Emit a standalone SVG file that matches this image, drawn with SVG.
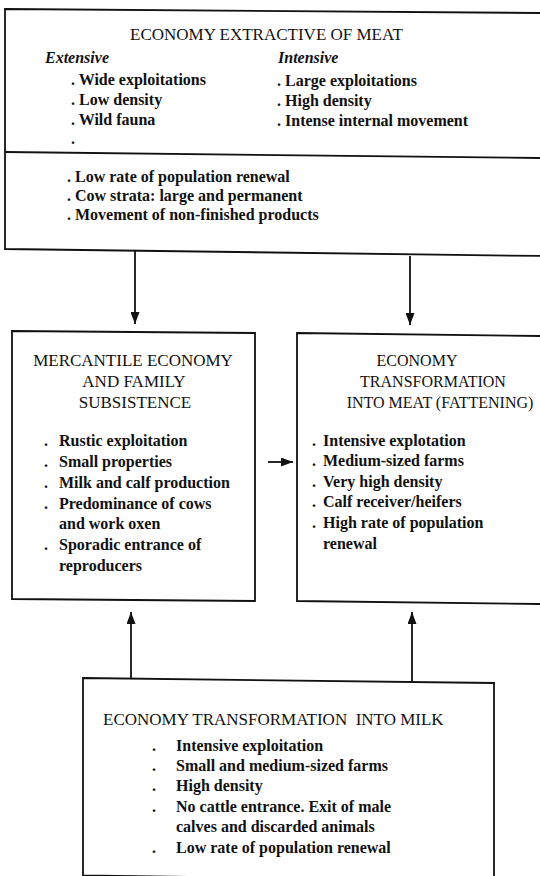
<svg xmlns="http://www.w3.org/2000/svg" width="540" height="876" viewBox="0 0 540 876">
<style>
  .box { fill: none; stroke: #111; stroke-width: 1.8; }
  .title { font-family: "Liberation Serif", "Times New Roman", serif; font-size: 17px; fill: #111; }
  .title-s { font-family: "Liberation Serif", "Times New Roman", serif; font-size: 16px; fill: #111; }
  .body { font-family: "Liberation Serif", "Times New Roman", serif; font-size: 16px; font-weight: bold; fill: #111; }
  .head { font-family: "Liberation Serif", "Times New Roman", serif; font-size: 16px; font-weight: bold; font-style: italic; fill: #111; }
  .conn { stroke: #111; stroke-width: 1.8; fill: none; marker-end: url(#arrow); }
</style>
<defs>
  <marker id="arrow" markerUnits="userSpaceOnUse" viewBox="0 0 12 9" markerWidth="12" markerHeight="9" refX="12" refY="4.5" orient="auto">
    <path d="M0,0 L12,4.5 L0,9 Z" fill="#111"/>
  </marker>
</defs>
<rect width="540" height="876" fill="#fff"/>

<g id="extractive-meat">
  <path class="box" d="M5,9 L542,13 L542,256 L5,249 Z"/>
  <line class="box" x1="5" y1="152" x2="542" y2="158"/>
  <text class="title" x="130" y="40">ECONOMY EXTRACTIVE OF MEAT</text>
  <text class="head" x="45" y="63">Extensive</text>
  <text class="head" x="278" y="63">Intensive</text>
  <text class="body" x="71" y="85">. Wide exploitations</text>
  <text class="body" x="71" y="105">. Low density</text>
  <text class="body" x="71" y="125">. Wild fauna</text>
  <text class="body" x="71" y="144">.</text>
  <text class="body" x="277" y="86">. Large exploitations</text>
  <text class="body" x="277" y="106">. High density</text>
  <text class="body" x="277" y="126">. Intense internal movement</text>
  <text class="body" x="67" y="182">. Low rate of population renewal</text>
  <text class="body" x="67" y="201">. Cow strata: large and permanent</text>
  <text class="body" x="67" y="220">. Movement of non-finished products</text>
</g>

<g id="mercantile">
  <path class="box" d="M12,331 L255,333 L255,601 L12,599 Z"/>
  <text class="title" x="133" y="366" text-anchor="middle">MERCANTILE ECONOMY</text>
  <text class="title" x="134" y="387" text-anchor="middle">AND FAMILY</text>
  <text class="title" x="135" y="408" text-anchor="middle">SUBSISTENCE</text>
  <text class="body" x="44" y="446">.</text><text class="body" x="59" y="446">Rustic exploitation</text>
  <text class="body" x="44" y="467">.</text><text class="body" x="59" y="467">Small properties</text>
  <text class="body" x="44" y="488">.</text><text class="body" x="59" y="488">Milk and calf production</text>
  <text class="body" x="44" y="509">.</text><text class="body" x="59" y="509">Predominance of cows</text>
  <text class="body" x="59" y="529">and work oxen</text>
  <text class="body" x="44" y="550">.</text><text class="body" x="59" y="550">Sporadic entrance of</text>
  <text class="body" x="59" y="571">reproducers</text>
</g>

<g id="fattening">
  <path class="box" d="M297,333 L542,336 L542,604 L297,601 Z"/>
  <text class="title-s" x="417" y="366" text-anchor="middle">ECONOMY</text>
  <text class="title-s" x="433" y="387" text-anchor="middle">TRANSFORMATION</text>
  <text class="title-s" x="440" y="408" text-anchor="middle">INTO MEAT (FATTENING)</text>
  <text class="body" x="312" y="446">.</text><text class="body" x="323" y="446">Intensive explotation</text>
  <text class="body" x="312" y="466">.</text><text class="body" x="323" y="466">Medium-sized farms</text>
  <text class="body" x="312" y="487">.</text><text class="body" x="323" y="487">Very high density</text>
  <text class="body" x="312" y="507">.</text><text class="body" x="323" y="507">Calf receiver/heifers</text>
  <text class="body" x="312" y="528">.</text><text class="body" x="323" y="528">High rate of population</text>
  <text class="body" x="323" y="549">renewal</text>
</g>

<g id="milk">
  <path class="box" d="M83,678 L494,683 L494,881 L83,875.5 Z"/>
  <text class="title" x="103" y="725" xml:space="preserve">ECONOMY TRANSFORMATION  INTO MILK</text>
  <text class="body" x="152" y="751">.</text><text class="body" x="176" y="751">Intensive exploitation</text>
  <text class="body" x="152" y="771">.</text><text class="body" x="176" y="771">Small and medium-sized farms</text>
  <text class="body" x="152" y="791">.</text><text class="body" x="176" y="791">High density</text>
  <text class="body" x="152" y="812">.</text><text class="body" x="176" y="812">No cattle entrance. Exit of male</text>
  <text class="body" x="176" y="832">calves and discarded animals</text>
  <text class="body" x="152" y="853">.</text><text class="body" x="176" y="853">Low rate of population renewal</text>
</g>

<g id="connectors">
  <line class="conn" x1="135" y1="250" x2="135" y2="324"/>
  <line class="conn" x1="410" y1="256" x2="410" y2="325"/>
  <line class="conn" x1="268" y1="462" x2="293" y2="462"/>
  <line class="conn" x1="131" y1="678" x2="131" y2="612"/>
  <line class="conn" x1="412" y1="682" x2="412" y2="612"/>
</g>
</svg>
